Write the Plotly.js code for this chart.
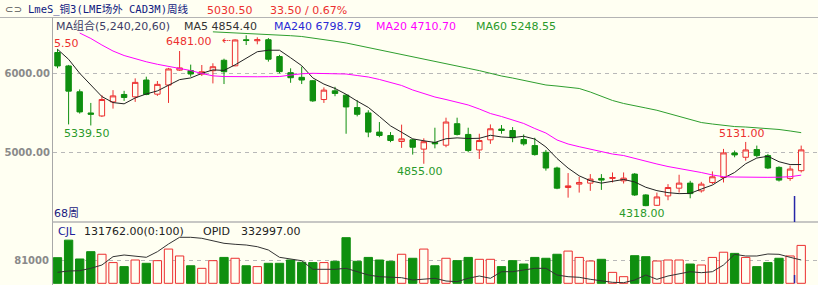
<!DOCTYPE html>
<html><head><meta charset="utf-8">
<script src="https://cdn.plot.ly/plotly-3.0.1.min.js"></script>
<style>html,body{margin:0;padding:0;background:#fffff2;}#chart{width:818px;height:285px;}</style>
</head><body><div id="chart"></div>
<script>
// ---------- data (weekly candles, 68 weeks) ----------
const openP  = [6263,6093,5766,5498,5460,5638,5732,5702,5915,5736,5851,6040,6035,5991,6033,6165,6095,6425,6412,6425,
                6212,6008,5949,5906,5668,5778,5723,5566,5498,5256,5213,5137,5158,5040,5124,5090,5362,5226,5030,5158,
                5294,5276,5162,5085,5000,4801,4554,4597,4610,4669,4669,4639,4724,4460,4329,4448,4546,4610,4512,4618,
                4681,4992,4937,5035,4958,4809,4669,4767];
const highP  = [6305.5,6106,5796,5625,5723,5787,5778,5936,5957,5902,6068,6282,6110,6105,6127,6185,6430,6481,6456,6446,
                6233,6063,6085,5915,5821,5829,5736,5660,5532,5383,5256,5350,5170,5177,5311,5438,5438,5311,5235,5353,
                5345,5319,5226,5184,5030,4818,4737,4690,4724,4724,4745,4745,4737,4469,4490,4597,4716,4639,4626,4758,
                5043,5022,5131,5085,4980,4822,4831,5085];
const lowP   = [6064,5353,5490,5339.5,5447,5553,5651,5638,5723,5714,5625,6030,5957,5966,5872,5864,6090,6358,6367,6148,
                6000,5880,5864,5638,5625,5710,5235,5455,5191,5191,5128,5056,4971,4855,5050,5064,5213,5000,4916,5107,
                5235,5128,5085,4958,4768,4533,4426,4490,4512,4524,4618,4605,4448,4318,4320,4393,4490,4418,4490,4597,
                4618,4937,4894,4937,4788,4630,4639,4745];
const closeP = [6093,5774,5511,5481,5668,5714,5694,5885,5732,5860,6055,6068,5991,6020,6083,6020,6422,6415,6425,6178,
                6021,5944,5915,5651,5787,5745,5574,5481,5256,5213,5149,5170,5064,5134,5107,5383,5226,5022,5149,5298,
                5276,5184,5107,4971,4801,4546,4575,4618,4661,4648,4681,4673,4460,4325,4435,4554,4610,4477,4597,4690,
                4992,4967,5030,4958,4801,4648,4788,5030.5];
// MA5 for the first four weeks; later weeks are averaged from closeP
const ma5Head = [6304,6177,6000,5852];
const ma20 = [null,null,6510,6441,6358,6282,6225,6181,6146,6114,6089,6063,6035,5997,5968,5959,5956,5956,5956,5957,
              5959,5978,5994,6000,6000,6000,5991,5972,5953,5922,5884,5846,5789,5745,5700,5668,5637,5599,5548,5491,
              5453,5409,5365,5301,5244,5156,5105,5071,5042,5010,4978,4959,4921,4890,4852,4820,4795,4776,4744,4713,
              4691,4687,4683,4683,4683,4685,4691,4710.7];
const ma60 = [null,null,null,null,null,null,null,null,null,null,null,null,null,null,6525,6519,6513,6506,6498,6487,
              6482,6476,6466,6449,6428,6406,6384,6354,6325,6295,6270,6241,6211,6181,6152,6123,6092,6063,6034,5997,
              5966,5940,5909,5877,5852,5839,5820,5808,5763,5713,5656,5618,5586,5561,5532,5491,5453,5415,5377,5358,
              5339,5326,5320,5311,5304,5289,5270,5248.55];
const volume = [89000,150000,84500,110000,101000,72000,58000,81000,69500,78700,119000,95000,61000,52000,78700,90000,87000,61000,58000,69500,
                69500,81000,73000,72000,72000,76500,158600,76500,90000,81000,76500,101000,87000,119000,61000,87000,78700,90000,83400,83400,
                58000,78700,67000,90000,87000,101000,112000,90000,77500,83400,38000,23000,96000,92500,77500,81000,81000,67000,63600,90000,
                108000,104000,90000,58000,72000,87000,95000,131762];
const openInterest = [271500,278000,279500,291500,308000,349500,358000,353000,346500,374500,413000,446500,446500,441500,429500,416500,411500,408000,399500,383000,
                346500,336500,329500,286500,286500,286500,291500,274500,258000,249500,246500,244500,233000,236500,241500,228000,224500,241500,253000,241500,
                274500,274500,283000,291500,291500,258000,249500,246500,236500,229500,221500,219500,233000,258000,236500,253000,263000,274500,269500,274500,
                308000,361500,353000,353000,363000,361500,346500,332997];
const priceTicks = [5000,6000];
const priceTickText = ['5000.00','6000.00'];
const volTicks = [81000];
const volTickText = ['81000'];
const lastPrice = '5030.50', change = '33.50 / 0.67%';
const legendMA = [['MA组合(5,240,20,60)','#3c3c66'],['MA5 4854.40','#333333'],['MA240 6798.79','#2a2ad6'],
                  ['MA20 4710.70','#ff00ff'],['MA60 5248.55','#2a9a2a']];
const volHeader = [['CJL','#20209a'],['131762.00(0:100)','#222222'],['OPID','#222222'],['332997.00','#222222']];

// ---------- derived ----------
const N = closeP.length;
const idx = Array.from({length:N},(_,i)=>i);
const ma5 = idx.map(i => i < 4 ? ma5Head[i] : (closeP[i]+closeP[i-1]+closeP[i-2]+closeP[i-3]+closeP[i-4])/5);
const up = idx.map(i => closeP[i] >= openP[i]);

// ---------- styling / geometry ----------
const BG = '#fffff2', RED = '#ec2f2f', GREEN = '#0f8f0f';
const W = 818, H = 285, L = 53;
const px = x => (x - L) / (W - L);
const py = y => 1 - y / H;
// price axis: 6000 at y=73.3, 79 px per 1000
const pAt = y => 6000 - (y - 73.3) * 1000 / 79;
const mainTop = 30.5, mainBot = 222;
// volume axis: 0 at y=283.3, 81000 at y=260
const vScale = 81000 / (283.3 - 260);
const vAt = y => (283.3 - y) * vScale;
const volTop = 222.5;
// open interest axis (332997 at y=260)
const oiAt = y => 332997 + (260 - y) * 5000;

const traces = [
  {type:'candlestick', x: idx, open: openP, high: highP, low: lowP, close: closeP,
   increasing:{line:{color:RED,width:1}, fillcolor:BG},
   decreasing:{line:{color:GREEN,width:1}, fillcolor:GREEN},
   whiskerwidth:0, xaxis:'x', yaxis:'y', hoverinfo:'skip', showlegend:false},
  {type:'scatter', mode:'lines', x: idx, y: ma5, line:{color:'#222222',width:1}, xaxis:'x', yaxis:'y', hoverinfo:'skip'},
  {type:'scatter', mode:'lines', x: idx, y: ma20, line:{color:'#ff00ff',width:1}, xaxis:'x', yaxis:'y', hoverinfo:'skip'},
  {type:'scatter', mode:'lines', x: idx, y: ma60, line:{color:'#2e9e2e',width:1}, xaxis:'x', yaxis:'y', hoverinfo:'skip'},
  {type:'bar', x: idx, y: volume, width:0.75,
   marker:{color: up.map(u => u ? BG : GREEN), line:{color: up.map(u => u ? RED : GREEN), width:1}},
   xaxis:'x', yaxis:'y2', hoverinfo:'skip'},
  {type:'scatter', mode:'lines', x: idx, y: openInterest, line:{color:'#333333',width:1}, xaxis:'x', yaxis:'y3', hoverinfo:'skip'}
];

const txt = (text, x, y, color, size, extra) => Object.assign({
  text, xref:'paper', yref:'paper', x: px(x), y: py(y), xanchor:'left', yanchor:'middle',
  showarrow:false, font:{family:'DejaVu Sans, Noto Sans CJK SC', size: size || 11, color}, borderpad:0
}, extra || {});

const ann = [];
ann.push(txt('⊂⊃', 4, 9.5, '#555555', 10));
ann.push(txt('LmeS_铜3(LME场外 CAD3M)周线', 27, 9.5, '#102080', 10.5, {font:{family:'DejaVu Sans Mono, Noto Sans CJK SC', size:10.5, color:'#102080'}}));
ann.push(txt(lastPrice, 206, 10, RED, 11));
ann.push(txt(change, 269, 10, RED, 11));
const legX = [55, 183, 273, 375, 475];
legendMA.forEach((m,k) => ann.push(txt(m[0], legX[k], 26, m[1], 11)));
const volX = [57, 83, 202, 240];
volHeader.forEach((m,k) => ann.push(txt(m[0], volX[k], 231, m[1], 11)));
ann.push(txt('68周', 53, 213, '#1a1a80', 11));

// high / low labels anchored to the candles
const lab = (text, i, yv, color, xanchor, xshift, yshift) => ({
  text, x: i, y: yv, xref:'x', yref:'y', xanchor, yanchor:'middle', xshift, yshift,
  showarrow:false, font:{family:'DejaVu Sans', size:11, color}, borderpad:0
});
ann.push(lab('5.50', 0, highP[0], RED, 'left', -5, 6));
ann.push(lab(highP[17].toFixed(2), 16, highP[17], RED, 'right', -22, -6));
ann.push(lab('⇠', 16, highP[17], RED, 'right', -3, -5));
ann.push(lab(lowP[3].toFixed(2), 3, lowP[3], '#2a9a2a', 'center', -4, -8));
ann.push(lab(lowP[33].toFixed(2), 33, lowP[33], '#2a9a2a', 'center', -4, -8));
ann.push(lab(lowP[53].toFixed(2), 53, lowP[53], '#2a9a2a', 'center', -4, -7));
ann.push(lab(highP[62].toFixed(2), 62, highP[62], RED, 'center', -4, 8));

const shapes = [
  // header separator
  {type:'line', xref:'paper', yref:'paper', x0: px(0), x1: 1, y0: py(17.5), y1: py(17.5), line:{color:'#b4b4b4', width:1}},
  // left axis line
  {type:'line', xref:'paper', yref:'paper', x0: px(52.5), x1: px(52.5), y0: 0, y1: py(17.5), line:{color:'#a8a8a8', width:1}},
  // panel separator
  {type:'line', xref:'paper', yref:'paper', x0: px(52.5), x1: 1, y0: py(222), y1: py(222), line:{color:'#b4b4b4', width:1.5}},
  // current-week marker
  {type:'line', xref:'x', yref:'y', x0: 66.4, x1: 66.4, y0: pAt(196), y1: pAt(mainBot), line:{color:'#2626a8', width:1.5}},
  {type:'line', xref:'x', yref:'y2', x0: 66.4, x1: 66.4, y0: 0, y1: vAt(275), line:{color:'#2626a8', width:1.5}}
];

const layout = {
  width: W, height: H, margin:{l:L, r:0, t:0, b:0},
  paper_bgcolor: BG, plot_bgcolor: BG, showlegend:false, hovermode:false,
  font:{family:'DejaVu Sans', size:11},
  xaxis:{range:[(L - 57.5)/11.1, (W - 57.5)/11.1], showgrid:false, zeroline:false, showticklabels:false,
         ticks:'', rangeslider:{visible:false}, fixedrange:true, anchor:'y2'},
  yaxis:{domain:[py(mainBot), py(mainTop)], range:[pAt(mainBot), pAt(mainTop)], tickvals: priceTicks, ticktext: priceTickText,
         showgrid:true, gridcolor:'#b8b8b8', griddash:'4px,4px', gridwidth:1, zeroline:false, ticks:'',
         tickfont:{family:'DejaVu Sans', size:10, color:'#8a8a8a', weight:'bold'}, ticklabelstandoff:2, fixedrange:true},
  yaxis2:{domain:[0, py(volTop)], range:[vAt(H), vAt(volTop)], tickvals: volTicks, ticktext: volTickText,
         showgrid:true, gridcolor:'#b8b8b8', griddash:'4px,4px', gridwidth:1, zeroline:false, ticks:'',
         tickfont:{family:'DejaVu Sans', size:10, color:'#8a8a8a', weight:'bold'}, ticklabelstandoff:3, fixedrange:true},
  yaxis3:{overlaying:'y2', range:[oiAt(H), oiAt(volTop)], visible:false, fixedrange:true},
  bargap:0.25,
  annotations: ann, shapes
};

Plotly.newPlot('chart', traces, layout, {displayModeBar:false, staticPlot:true});
</script></body></html>
